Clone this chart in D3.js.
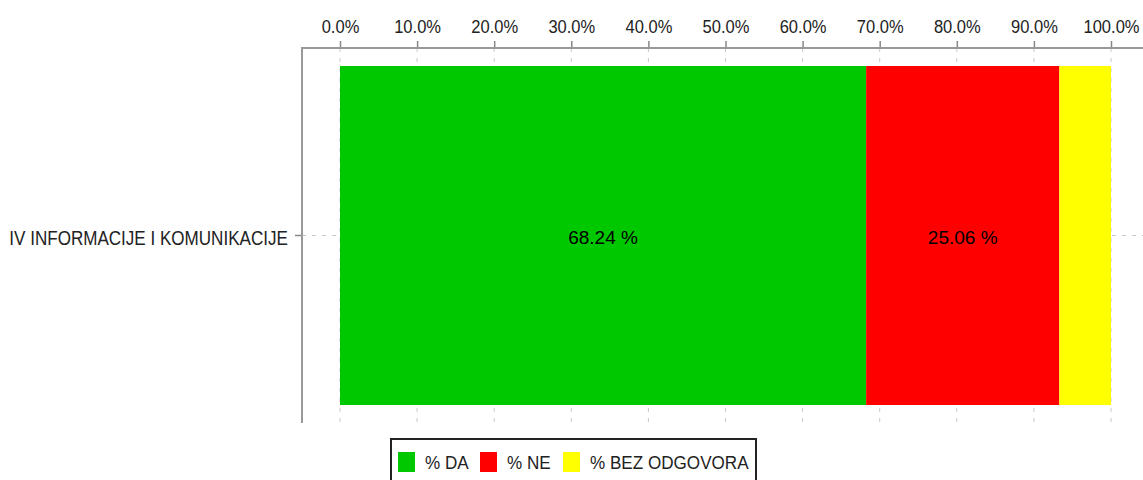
<!DOCTYPE html>
<html>
<head>
<meta charset="utf-8">
<script src="https://cdn.jsdelivr.net/npm/d3@7"></script>
<style>
  body { margin: 0; background: #fff; }
  svg { display: block; font-family: "Liberation Sans", Arial, sans-serif; }
</style>
</head>
<body>
<svg id="chart"></svg>
<script>
// Data
const categories = ["IV INFORMACIJE I KOMUNIKACIJE"];
const seriesNames = ["% DA", "% NE", "% BEZ ODGOVORA"];
const seriesColors = ["#00c800", "#ff0000", "#ffff00"];
const valuesDA = [68.24];
const valuesNE = [25.06];
const valuesBez = [6.70];
const tickValues = [0, 10, 20, 30, 40, 50, 60, 70, 80, 90, 100];

const w = 1143, h = 480;
const frameLeft = 302, frameTop = 48, frameBottom = 423;

const svg = d3.select("#chart").attr("width", w).attr("height", h);

// Scales
const x = d3.scaleLinear().domain([0, 100]).range([340, 1111]);
const y = d3.scaleBand().domain(categories).range([66, 405]).padding(0);

// Grid
svg.append("g").selectAll("line")
   .data(tickValues)
   .enter().append("line")
   .attr("x1", d => x(d)).attr("x2", d => x(d))
   .attr("y1", frameTop).attr("y2", frameBottom)
   .attr("stroke", "#c8c8c8")
   .attr("stroke-dasharray", "4,6");

svg.append("g").selectAll("line")
   .data(categories)
   .enter().append("line")
   .attr("x1", frameLeft).attr("x2", w)
   .attr("y1", d => y(d) + y.bandwidth() / 2)
   .attr("y2", d => y(d) + y.bandwidth() / 2)
   .attr("stroke", "#c8c8c8")
   .attr("stroke-dasharray", "4,6");

// Stacked bars
const rows = categories.map((c, i) => ({ cat: c, v: [valuesDA[i], valuesNE[i], valuesBez[i]] }));
rows.forEach(r => {
  let start = 0;
  r.v.forEach((v, j) => {
    svg.append("rect")
       .attr("x", x(start))
       .attr("y", y(r.cat))
       .attr("width", x(start + v) - x(start))
       .attr("height", y.bandwidth())
       .attr("fill", seriesColors[j]);
    if (j < 2) {
      svg.append("text")
         .attr("x", x(start + v / 2))
         .attr("y", y(r.cat) + y.bandwidth() / 2 + 8)
         .attr("text-anchor", "middle")
         .attr("font-size", 19)
         .attr("fill", "#000")
         .text(v.toFixed(2) + " %");
    }
    start += v;
  });
});

// Frame
svg.append("line").attr("x1", frameLeft).attr("x2", w).attr("y1", frameTop).attr("y2", frameTop)
   .attr("stroke", "#999").attr("stroke-width", 2);
svg.append("line").attr("x1", frameLeft).attr("x2", frameLeft).attr("y1", frameTop - 1).attr("y2", frameBottom)
   .attr("stroke", "#999").attr("stroke-width", 2);

// Top axis
const xAxis = d3.axisTop(x).tickValues(tickValues).tickSize(6)
                .tickFormat(d => d.toFixed(1) + "%");
const gx = svg.append("g").attr("transform", "translate(0," + (frameTop - 1) + ")").call(xAxis);
gx.select(".domain").remove();
gx.selectAll(".tick line").attr("stroke", "#888").attr("stroke-width", 1.5);
gx.selectAll(".tick text")
  .attr("y", -14).attr("dy", null)
  .attr("transform", "scale(0.87,1)")
  .attr("font-size", 19).attr("fill", "#222")
  .attr("font-family", "Liberation Sans, Arial, sans-serif");

// Left axis
const yAxis = d3.axisLeft(y).tickSize(6);
const gy = svg.append("g").attr("transform", "translate(" + (frameLeft - 1) + ",0)").call(yAxis);
gy.select(".domain").remove();
gy.selectAll(".tick line").attr("stroke", "#888").attr("stroke-width", 1.5);
gy.selectAll(".tick text")
  .attr("x", -15).attr("y", 9).attr("dy", null)
  .attr("transform", "scale(0.875,1)")
  .attr("font-size", 19.5).attr("fill", "#222")
  .attr("font-family", "Liberation Sans, Arial, sans-serif");

// Legend
const legend = svg.append("g");
legend.append("rect")
      .attr("x", 391).attr("y", 439).attr("width", 365).attr("height", 50)
      .attr("fill", "#fff").attr("stroke", "#222").attr("stroke-width", 2);
const legendX = [398, 480, 563];
seriesNames.forEach((n, i) => {
  legend.append("rect")
        .attr("x", legendX[i]).attr("y", 452).attr("width", 17).attr("height", 20)
        .attr("fill", seriesColors[i]);
  legend.append("text")
        .attr("transform", "translate(" + (legendX[i] + 27) + ",469) scale(0.95,1)")
        .attr("font-size", 18).attr("fill", "#222")
        .text(n);
});
</script>
</body>
</html>
